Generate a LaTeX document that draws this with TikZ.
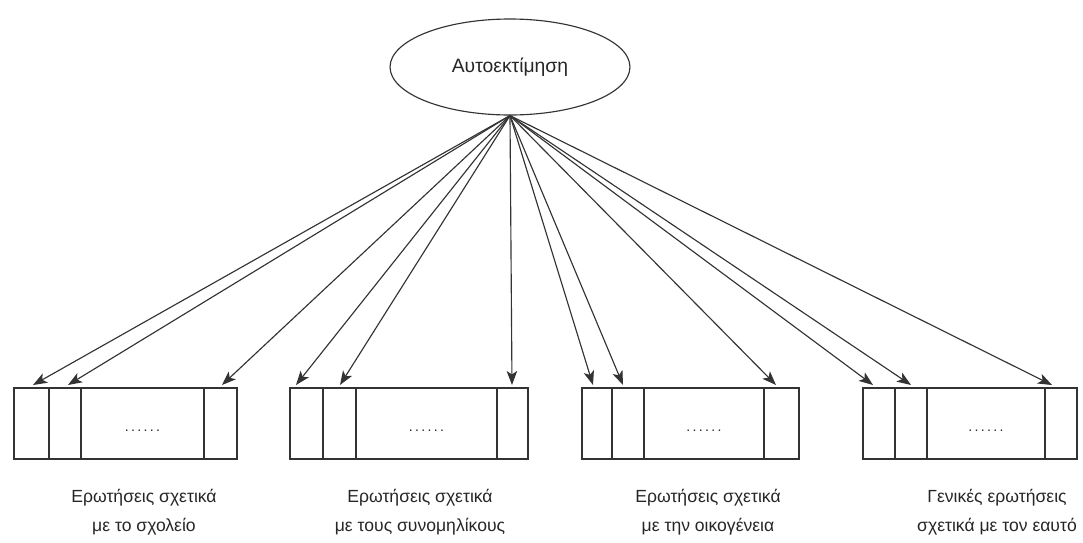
\documentclass[tikz,border=0pt]{standalone}
\usepackage{fontspec}
\setmainfont{Liberation Sans}
\usepackage{tikz}
\usetikzlibrary{arrows.meta,shapes.geometric}

\begin{document}
\begin{tikzpicture}[
  x=0.02cm, y=-0.02cm,
  every node/.style={font=\fontsize{10}{16.5}\selectfont, text=black!85},
  latent/.style={draw, ellipse, minimum width=4.8cm, minimum height=1.92cm, inner sep=0pt,
    font=\fontsize{11}{13}\selectfont},
  lab/.style={align=center},
  >={Stealth[length=8pt,width=6pt,inset=2pt]},
  line width=0.65pt, draw=black!80
]
  \useasboundingbox (0,0) rectangle (1083,542);

  \node[latent] (self) at (510,67) {Αυτοεκτίμηση};

  % question blocks
  \foreach \n/\xa/\xb/\xc/\xd/\xe in {1/14/49/81/204/237,2/290/323/356/497/528,3/582/612/644/764/799,4/863/895/927/1045/1077} {
    \draw[line width=0.8pt] (\xa,388) rectangle (\xe,459);
    \foreach \x in {\xb,\xc,\xd}
      \draw (\x,388) -- (\x,459);
    \node[font=\fontsize{8}{9}\selectfont] (dots\n) at ({(\xc+\xd)/2},431) {.\,.\,.\,.\,.\,.};
  }

  \foreach \t/\x in {a1/33,a2/68,a3/222,b1/296,b2/340,b3/512,c1/593,c2/623,c3/776,d1/873,d2/911,d3/1052}
    \coordinate (\t) at (\x,385);
  \foreach \t in {a1,a2,a3,b1,b2,b3,c1,c2,c3,d1,d2,d3}
    \draw[->] (self.south) -- (\t);

  \node[lab] (school) at (144,512) {Ερωτήσεις σχετικά\\με το σχολείο};
  \node[lab] (peers) at (420,512) {Ερωτήσεις σχετικά\\με τους συνομηλίκους};
  \node[lab] (family) at (708,512) {Ερωτήσεις σχετικά\\με την οικογένεια};
  \node[lab] (general) at (997,512) {Γενικές ερωτήσεις\\σχετικά με τον εαυτό};
\end{tikzpicture}
\end{document}
